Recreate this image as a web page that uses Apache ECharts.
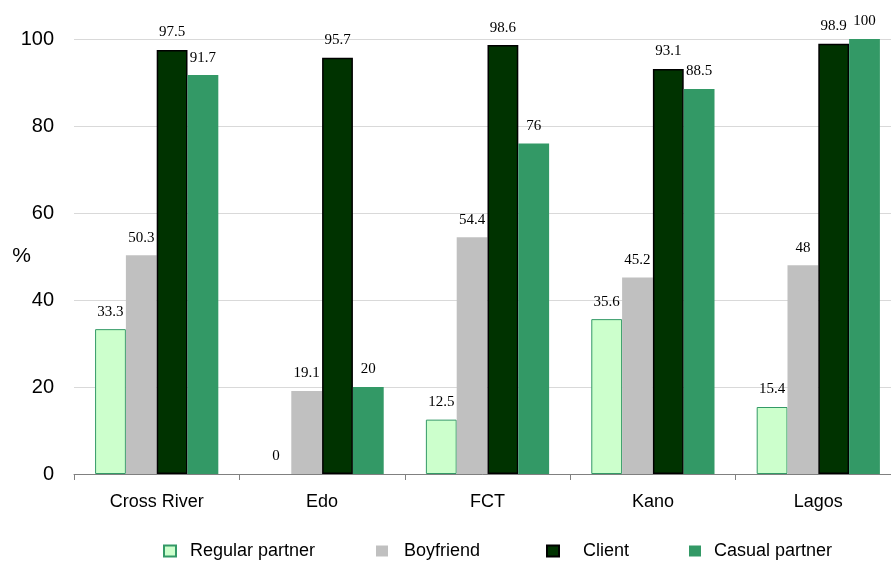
<!DOCTYPE html>
<html><head><meta charset="utf-8">
<script src="https://cdn.jsdelivr.net/npm/echarts@6/dist/echarts.min.js"></script>
<style>html,body{margin:0;padding:0;background:#fff}#c{width:891px;height:561px}</style>
</head><body><div id="c"></div>
<script>
const categories = ["Cross River", "Edo", "FCT", "Kano", "Lagos"];
const regularPartner = [33.3, 0, 12.5, 35.6, 15.4];
const boyfriend = [50.3, 19.1, 54.4, 45.2, 48];
const client = [97.5, 95.7, 98.6, 93.1, 98.9];
const casualPartner = [91.7, 20, 76, 88.5, 100];
const seriesNames = ["Regular partner", "Boyfriend", "Client", "Casual partner"];
const yTicks = [0, 20, 40, 60, 80, 100];

const chart = echarts.init(document.getElementById('c'), null, {renderer: 'canvas'});
const lbl = {show: true, position: 'top', distance: 10, fontFamily: 'Liberation Serif', fontSize: 15, color: '#000'};
function mk(name, data, color, border, bw) {
  return {name, type: 'bar',
    data: data.map(v => v === 0 ? {value: v, itemStyle: {borderWidth: 0}} : v),
    barGap: '0%', barCategoryGap: '25.5%',
    itemStyle: {color, borderColor: border, borderWidth: bw}, label: lbl};
}
const legendPos = [[163, 9], [376, 11], [546, 19], [689, 8]];
const legends = seriesNames.map((n, i) => ({
  data: [n], left: legendPos[i][0], top: 542, padding: 0,
  itemWidth: 12, itemHeight: 11, icon: 'rect',
  textStyle: {fontFamily: 'Liberation Sans', fontSize: 18, color: '#000', padding: [0, 0, 0, legendPos[i][1]]}
}));
chart.setOption({
  animation: false,
  grid: {left: 74, right: -10, top: 39, bottom: 87, containLabel: false, outerBoundsMode: 'none'},
  legend: legends,
  xAxis: {
    type: 'category', data: categories,
    axisLine: {lineStyle: {color: '#808080', width: 1}},
    axisTick: {show: true, length: 6, lineStyle: {color: '#808080'}},
    axisLabel: {fontFamily: 'Liberation Sans', fontSize: 18, color: '#000', margin: 19}
  },
  yAxis: {
    type: 'value', min: yTicks[0], max: yTicks[yTicks.length - 1], interval: 20,
    name: '%', nameLocation: 'middle', nameRotate: 0, nameGap: 43, nameMoveOverlap: false,
    nameTextStyle: {fontFamily: 'Liberation Sans', fontSize: 21, color: '#000', padding: [0, 0, 8, 0]},
    axisLine: {show: false}, axisTick: {show: false},
    axisLabel: {fontFamily: 'Liberation Sans', fontSize: 20, color: '#000', margin: 20},
    splitLine: {lineStyle: {color: '#d9d9d9', width: 1}}
  },
  series: [
    mk(seriesNames[0], regularPartner, '#ccffcc', '#339966', 1),
    mk(seriesNames[1], boyfriend, '#c0c0c0', '#c0c0c0', 0),
    mk(seriesNames[2], client, '#003300', '#000000', 1.5),
    mk(seriesNames[3], casualPartner, '#339966', '#339966', 0)
  ]
});
</script></body></html>
